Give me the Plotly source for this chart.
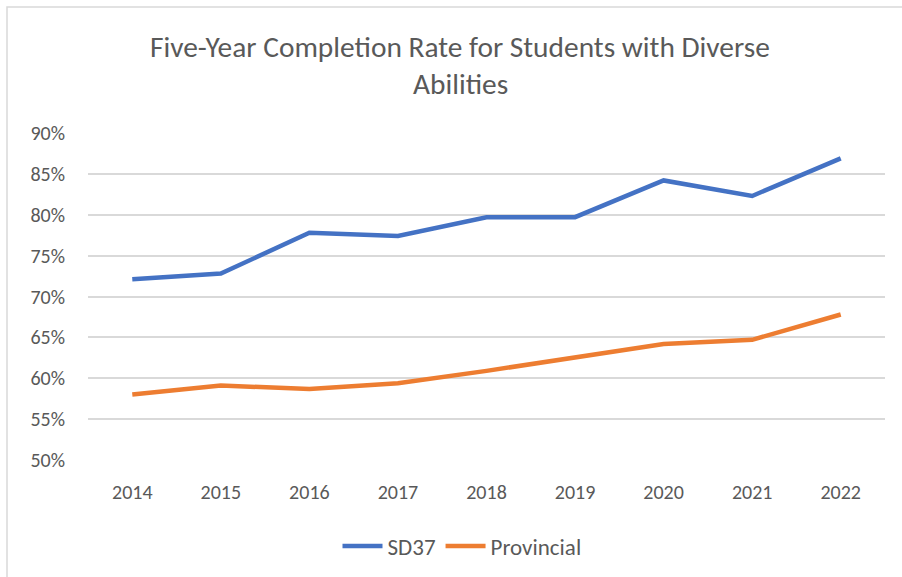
import plotly.graph_objects as go

years = ["2014", "2015", "2016", "2017", "2018", "2019", "2020", "2021", "2022"]
sd37 = [72.1, 72.8, 77.8, 77.4, 79.7, 79.7, 84.2, 82.3, 86.9]
provincial = [58.0, 59.1, 58.7, 59.4, 60.9, 62.6, 64.2, 64.7, 67.8]
y_ticks = [50, 55, 60, 65, 70, 75, 80, 85, 90]
y_labels = [f"{v}%" for v in y_ticks]

W, H = 902, 577
L, R, T, B = 88, 17, 133, 117
pw, ph = W - L - R, H - T - B

def px(x):
    return (x - L) / pw

def py(y):
    return (H - B - y) / ph

FONT = "Carlito, Liberation Sans Narrow, Liberation Sans, sans-serif"
GRAY = "#595959"

fig = go.Figure()
fig.add_trace(go.Scatter(x=years, y=sd37, mode="lines", name="SD37",
                         line=dict(color="#4472C4", width=4.5)))
fig.add_trace(go.Scatter(x=years, y=provincial, mode="lines", name="Provincial",
                         line=dict(color="#ED7D31", width=4.5)))

fig.update_layout(
    width=W, height=H,
    margin=dict(l=L, r=R, t=T, b=B, autoexpand=False),
    paper_bgcolor="white", plot_bgcolor="white",
    font=dict(family=FONT, color=GRAY, size=20),
    showlegend=True,
    legend=dict(orientation="h", x=px(462), xanchor="center", y=py(546), yanchor="middle",
                font=dict(size=23, color=GRAY), itemwidth=40),
    xaxis=dict(type="category", range=[-0.5, 8.5], showgrid=False, zeroline=False,
               showline=False, ticks="", ticklabelstandoff=18,
               tickfont=dict(size=20, color=GRAY)),
    yaxis=dict(range=[50, 90], tickvals=y_ticks, ticktext=y_labels, showgrid=True,
               gridcolor="#D9D9D9", gridwidth=1.5, zeroline=False, showline=False,
               ticks="", ticklabelstandoff=22, tickfont=dict(size=20, color=GRAY)),
    shapes=[dict(type="rect", xref="paper", yref="paper",
                 x0=px(7), x1=px(W + 20), y0=py(H + 20), y1=py(7),
                 line=dict(color="#D9D9D9", width=1.5), fillcolor="rgba(0,0,0,0)")],
    annotations=[
        dict(text="Five-Year Completion Rate for Students with Diverse", xref="paper", yref="paper",
             x=px(460), y=py(47), xanchor="center", yanchor="middle", showarrow=False,
             font=dict(size=29.4, color=GRAY)),
        dict(text="Abilities", xref="paper", yref="paper",
             x=px(460), y=py(84), xanchor="center", yanchor="middle", showarrow=False,
             font=dict(size=29.4, color=GRAY)),
    ],
)

fig.write_html("out.html")
